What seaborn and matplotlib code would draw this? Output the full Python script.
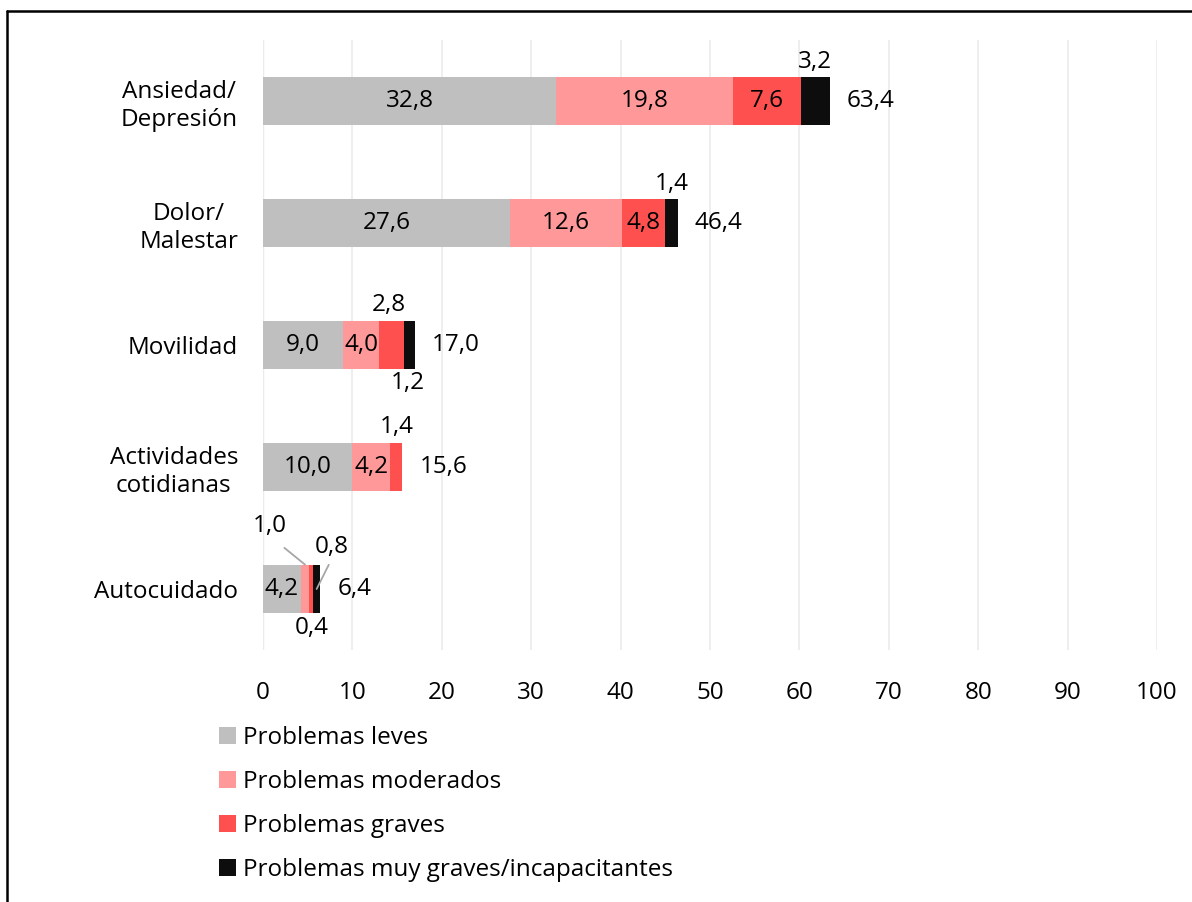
import numpy as np
import pandas as pd
import matplotlib
matplotlib.use("Agg")
import matplotlib.pyplot as plt
import seaborn as sns
from matplotlib.lines import Line2D
from matplotlib.patches import Patch

categories = ["Ansiedad/\nDepresión", "Dolor/\nMalestar", "Movilidad",
              "Actividades\ncotidianas", "Autocuidado"]
series = ["Problemas leves", "Problemas moderados", "Problemas graves",
          "Problemas muy graves/incapacitantes"]
leves = [32.8, 27.6, 9.0, 10.0, 4.2]
moderados = [19.8, 12.6, 4.0, 4.2, 1.0]
graves = [7.6, 4.8, 2.8, 1.4, 0.4]
muy_graves = [3.2, 1.4, 1.2, 0.0, 0.8]
totales = [63.4, 46.4, 17.0, 15.6, 6.4]
xticks = [0, 10, 20, 30, 40, 50, 60, 70, 80, 90, 100]

colors = ["#BFBFBF", "#FF9999", "#FF5050", "#0D0D0D"]

sns.set_theme(style="white")
plt.rcParams['font.family'] = ['Open Sans', 'DejaVu Sans']
plt.rcParams['text.color'] = 'black'
FS = 17.5

df = pd.DataFrame({"cat": categories, "leves": leves, "moderados": moderados,
                   "graves": graves, "muy": muy_graves})
df["c1"] = df["leves"]
df["c2"] = df["c1"] + df["moderados"]
df["c3"] = df["c2"] + df["graves"]
df["c4"] = df["c3"] + df["muy"]

fig = plt.figure(figsize=(11.92, 9.02), dpi=100)
ax = fig.add_axes([263 / 1192, 1 - 650 / 902, 894 / 1192, 610 / 902])

# draw cumulative layers from the longest down so they stack visually
for col, c in zip(["c4", "c3", "c2", "c1"], colors[::-1]):
    sns.barplot(data=df, x=col, y="cat", orient="h", color=c, width=0.4,
                saturation=1, ax=ax, linewidth=0)

ax.set_xlim(0, 100)
ax.set_ylim(4.5, -0.5)
ax.set_xticks(xticks)
ax.set_xlabel("")
ax.set_ylabel("")
for s in ax.spines.values():
    s.set_visible(False)
ax.grid(axis="x", color="#EDEDED", linewidth=1.3)
ax.set_axisbelow(True)
ax.axvline(0, color="#D9D9D9", linewidth=1.6, zorder=0.5)
ax.tick_params(axis="x", labelsize=FS, length=0, pad=22, colors="black")
ax.tick_params(axis="y", labelsize=FS, length=0, pad=18, colors="black")
for t in ax.get_yticklabels():
    t.set_multialignment("center")


def fmt(v):
    return f"{v:.1f}".replace(".", ",")


def seg_label(i, start, val, dx=0, dy=0):
    cx = start + val / 2
    if dx == 0 and dy == 0:
        ax.text(cx, i, fmt(val), ha="center", va="center", fontsize=FS, color="black")
    else:
        ax.annotate(fmt(val), xy=(cx, i), xytext=(dx, dy), textcoords="offset pixels",
                    ha="center", va="center", fontsize=FS, color="black")


# inside labels
for i in range(len(categories)):
    seg_label(i, 0, leves[i])
    if i < 4:
        seg_label(i, df["c1"][i], moderados[i])
seg_label(0, df["c2"][0], graves[0])
seg_label(1, df["c2"][1], graves[1])

# outside labels
seg_label(0, df["c3"][0], muy_graves[0], dy=39)
seg_label(1, df["c3"][1], muy_graves[1], dy=39)
seg_label(2, df["c2"][2], graves[2], dx=-3, dy=40)
seg_label(2, df["c3"][2], muy_graves[2], dx=-2, dy=-38)
seg_label(3, df["c2"][3], graves[3], dx=1, dy=40)
seg_label(4, df["c2"][4], graves[4], dx=0, dy=-39)

# autocuidado with leader lines
ax.annotate(fmt(moderados[4]), xy=(df["c1"][4] + moderados[4] / 2, 4 - 0.2),
            xytext=(-35, 39), textcoords="offset pixels", ha="center", va="center",
            fontsize=FS, color="black",
            arrowprops=dict(arrowstyle="-", color="#A6A6A6", lw=1.3, relpos=(0.55, 0),
                            shrinkA=8, shrinkB=0))
ax.annotate(fmt(muy_graves[4]), xy=(df["c3"][4] + muy_graves[4] / 2, 4),
            xytext=(15, 42), textcoords="offset pixels", ha="center", va="center",
            fontsize=FS, color="black",
            arrowprops=dict(arrowstyle="-", color="#A6A6A6", lw=1.3, relpos=(0.5, 0),
                            shrinkA=2, shrinkB=0))

# totals
for i, t in enumerate(totales):
    ax.annotate(fmt(t), xy=(t, i), xytext=(17, 0), textcoords="offset pixels",
                ha="left", va="center", fontsize=FS, color="black")

handles = [Patch(facecolor=c, edgecolor="none") for c in colors]
fig.legend(handles, series, loc="upper left", bbox_to_anchor=(209 / 1192, 1 - 716 / 902),
           frameon=False, fontsize=FS, handlelength=0.7, handleheight=0.7,
           handletextpad=0.3, labelspacing=0.82, borderaxespad=0, labelcolor="black")

# outer frame (top and left edges)
fig.add_artist(Line2D([7 / 1192, 1], [1 - 10.5 / 902, 1 - 10.5 / 902],
                      transform=fig.transFigure, color="black", lw=1.8))
fig.add_artist(Line2D([7.5 / 1192, 7.5 / 1192], [0, 1 - 10.5 / 902],
                      transform=fig.transFigure, color="black", lw=1.8))

fig.savefig("out.png", dpi=100)
